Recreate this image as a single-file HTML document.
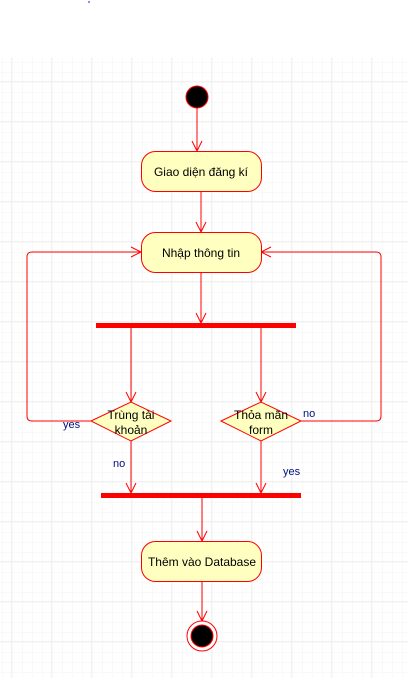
<!DOCTYPE html>
<html><head><meta charset="utf-8"><style>
body{margin:0;background:#fff}
svg{display:block}
text{font-family:"Liberation Sans",Arial,sans-serif;}
</style></head><body>
<svg width="408" height="678" viewBox="0 0 408 678" xmlns="http://www.w3.org/2000/svg">
<defs>
<pattern id="mn" width="10" height="10" patternUnits="userSpaceOnUse" x="1.5" y="1.5">
<path d="M10 0V10M0 10H10" stroke="#f3f3f3" stroke-width="1" fill="none"/>
</pattern>
<pattern id="mj" width="40" height="40" patternUnits="userSpaceOnUse" x="11.5" y="1.5">
<rect width="40" height="40" fill="url(#mn)"/>
<path d="M0 0V40M0 0H40" stroke="#e6e6e6" stroke-width="1" fill="none"/>
</pattern>
</defs>
<rect x="0" y="57" width="408" height="621" fill="url(#mj)"/>
<circle cx="89" cy="2" r="0.8" fill="#00f"/>
<g stroke="#f00" stroke-width="1" fill="none">
<path d="M197 108V151M192 141L197 151L202 141"/>
<path d="M201 191V232M196 222L201 232L206 222"/>
<path d="M201 272V323M196 313L201 323L206 313"/>
<path d="M131 328V402M126 392L131 402L136 392"/>
<path d="M261 328V402M256 392L261 402L266 392"/>
<path d="M131 441V493M126 483L131 493L136 483"/>
<path d="M261 441V493M256 483L261 493L266 483"/>
<path d="M91 421H32Q27 421 27 416V257Q27 252 32 252H141M131 247L141 252L131 257"/>
<path d="M301 421H376Q381 421 381 416V257Q381 252 376 252H261M271 247L261 252L271 257"/>
<path d="M202 498V541M197 531L202 541L207 531"/>
<path d="M202 581V621M197 611L202 621L207 611"/>
</g>
<circle cx="197" cy="97" r="11" fill="#000" stroke="#f00"/>
<g fill="#ffffc0" stroke="#f00">
<rect x="141.5" y="151.5" width="120" height="40" rx="14"/>
<rect x="141.5" y="232.5" width="120" height="40" rx="14"/>
<rect x="141.5" y="541.5" width="120" height="40" rx="14"/>
<path d="M91 421L131 402L171 421L131 441Z"/>
<path d="M221 421L261 402L301 421L261 441Z"/>
</g>
<rect x="96" y="323" width="200" height="5" fill="#f00"/>
<rect x="101" y="493" width="200" height="5" fill="#f00"/>
<circle cx="202" cy="636" r="15" fill="#fff" stroke="#f00"/>
<circle cx="202" cy="636" r="11" fill="#000" stroke="#f00"/>
<g font-size="12" fill="#000" text-anchor="middle">
<text x="201" y="176">Giao diện đăng kí</text>
<text x="201" y="257">Nhập thông tin</text>
<text x="202" y="566">Thêm vào Database</text>
<text x="131" y="419">Trùng tài</text>
<text x="131" y="434">khoản</text>
<text x="261" y="419">Thỏa mãn</text>
<text x="261" y="434">form</text>
</g>
<g font-size="11" fill="#001080">
<text x="63" y="428">yes</text>
<text x="303" y="417">no</text>
<text x="113" y="467">no</text>
<text x="283" y="475">yes</text>
</g>
</svg>
</body></html>
